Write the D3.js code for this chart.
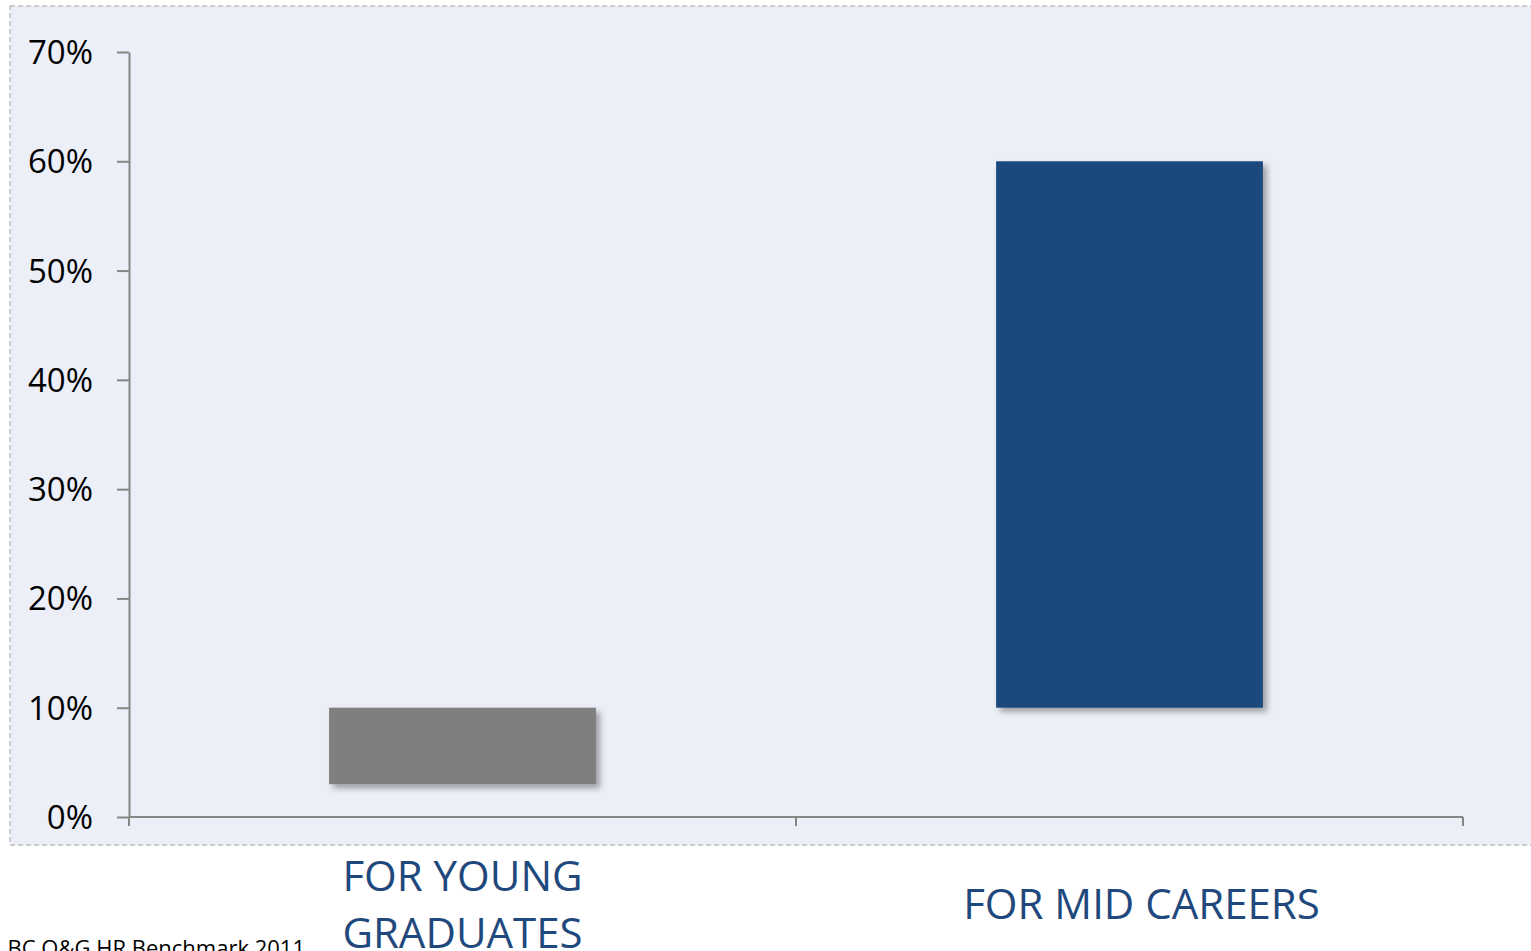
<!DOCTYPE html>
<html><head><meta charset="utf-8">
<script src="https://cdn.jsdelivr.net/npm/d3@7"></script>
<style>html,body{margin:0;padding:0;background:#fff;overflow:hidden}</style>
</head><body>
<script>
const categories = ["FOR YOUNG GRADUATES", "FOR MID CAREERS"];
const categoryLines = [["FOR YOUNG", "GRADUATES"], ["FOR MID CAREERS"]];
const barStart = [0.03, 0.10];
const barEnd = [0.10, 0.60];
const barColors = ["#7F7F7F", "#1F497D"];
const yTicks = [0, 0.1, 0.2, 0.3, 0.4, 0.5, 0.6, 0.7];
const sourceText = "BC O&G HR Benchmark 2011";

const W = 1531, H = 951;
const svg = d3.select("body").append("svg").attr("width", W).attr("height", H);
const font = "'Open Sans', sans-serif";

const defs = svg.append("defs");
const f = defs.append("filter").attr("id", "shadow").attr("x", "-10%").attr("y", "-10%").attr("width", "130%").attr("height", "130%");
f.append("feDropShadow").attr("dx", 4).attr("dy", 4).attr("stdDeviation", 3).attr("flood-color", "#000").attr("flood-opacity", 0.35);

svg.append("rect").attr("x", 10).attr("y", 6).attr("width", W + 20).attr("height", 839)
  .attr("fill", "#ECEFF7").attr("stroke", "#BFBFBF").attr("stroke-width", 1.5).attr("stroke-dasharray", "5,3");

const x0 = 129, x1 = 1463, yTop = 52, yBot = 817;
const x = d3.scaleBand().domain(categories).range([x0, x1]).paddingInner(0.6).paddingOuter(0.3);
const y = d3.scaleLinear().domain([0, 0.7]).range([yBot, yTop]);

// bars
svg.append("g").selectAll("rect").data(categories).join("rect")
  .attr("x", d => x(d))
  .attr("width", x.bandwidth())
  .attr("y", (d, i) => y(barEnd[i]))
  .attr("height", (d, i) => y(barStart[i]) - y(barEnd[i]))
  .attr("fill", (d, i) => barColors[i])
  .attr("filter", "url(#shadow)");

// y axis
const yAxis = svg.append("g").attr("transform", `translate(${x0},0)`)
  .call(d3.axisLeft(y).tickValues(yTicks).tickFormat(d3.format(".0%")).tickSize(12).tickSizeOuter(0).tickPadding(24));
yAxis.select(".domain").attr("stroke", "#868686").attr("stroke-width", 2);
yAxis.selectAll(".tick line").attr("stroke", "#868686").attr("stroke-width", 2);
yAxis.selectAll(".tick text").attr("fill", "#000").style("font-family", font).style("font-size", "33px").attr("dy", "0.35em");

// x axis
const xAxisG = svg.append("g").attr("transform", `translate(0,${yBot})`);
xAxisG.append("line").attr("x1", x0).attr("x2", x1).attr("stroke", "#868686").attr("stroke-width", 2);
const bounds = [x0, x(categories[1]) - x.step() * x.paddingInner() / 2, x1];
xAxisG.selectAll("line.tk").data(bounds).join("line").attr("class", "tk")
  .attr("x1", d => d).attr("x2", d => d).attr("y1", 0).attr("y2", 9)
  .attr("stroke", "#868686").attr("stroke-width", 2);

// category labels
const labelShift = [0, 12];
const labelG = svg.append("g");
categories.forEach((c, i) => {
  const lines = categoryLines[i];
  const cx = x(c) + x.bandwidth() / 2 + labelShift[i];
  const t = labelG.append("text").attr("x", cx).attr("text-anchor", "middle")
    .attr("fill", "#1F497D").style("font-family", font).style("font-size", "42px");
  const baseY = lines.length === 1 ? 919 : 891;
  lines.forEach((l, j) => {
    t.append("tspan").attr("x", cx).attr("y", baseY + j * 57).text(l);
  });
});

svg.append("text").attr("x", 305).attr("y", 956).attr("text-anchor", "end")
  .attr("fill", "#000").style("font-family", font).style("font-size", "22px").text(sourceText);
</script>
</body></html>
